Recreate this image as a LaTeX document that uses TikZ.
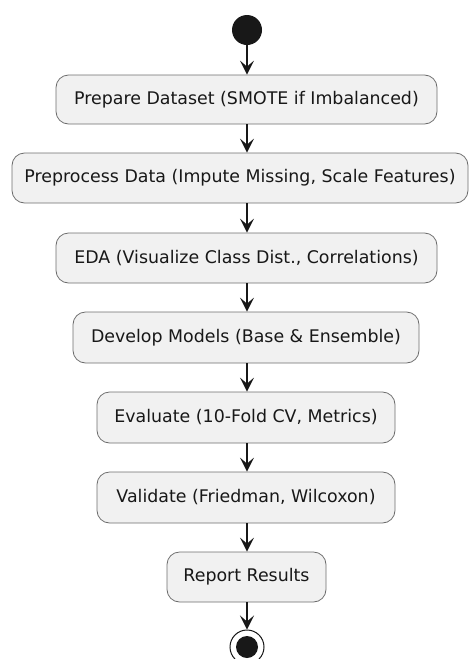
\documentclass[tikz,border=0pt]{standalone}
\usepackage{fontspec}
\setmainfont{DejaVu Sans}
\usetikzlibrary{arrows.meta}
\definecolor{boxfill}{HTML}{F1F1F1}
\definecolor{boxline}{HTML}{6E6E6E}
\definecolor{ink}{HTML}{181818}
\begin{document}
\begin{tikzpicture}[x=1pt,y=-1pt,
  act/.style={draw=boxline, line width=0.8pt, fill=boxfill, rounded corners=12.5pt, text=ink, font=\fontsize{17.4}{20}\selectfont, inner sep=0pt},
  flow/.style={draw=ink, line width=1.3pt, -{Stealth[length=14pt,width=14pt,inset=6pt]}}]
\useasboundingbox (0,0) rectangle (470,659);
\node[circle, fill=ink, minimum size=30pt, inner sep=0pt] (start) at (247,30) {};
\node[act, minimum width=381pt, minimum height=49pt] (a1) at (246.5,99.5) {Prepare Dataset (SMOTE if Imbalanced)};
\node[act, minimum width=456pt, minimum height=50pt] (a2) at (240,178) {Preprocess Data (Impute Missing, Scale Features)};
\node[act, minimum width=381pt, minimum height=50pt] (a3) at (246.5,258) {EDA (Visualize Class Dist., Correlations)};
\node[act, minimum width=346pt, minimum height=51pt] (a4) at (246,337.5) {Develop Models (Base \& Ensemble)};
\node[act, minimum width=298pt, minimum height=51pt] (a5) at (246,417.5) {Evaluate (10-Fold CV, Metrics)};
\node[act, minimum width=298pt, minimum height=51pt] (a6) at (246,497.5) {Validate (Friedman, Wilcoxon)};
\node[act, minimum width=159pt, minimum height=50pt] (a7) at (246.5,577) {Report Results};
\node[circle, draw=ink, line width=1pt, fill=white, minimum size=34pt, inner sep=0pt] (stop) at (247,647) {};
\node[circle, fill=ink, minimum size=22pt, inner sep=0pt] (stopin) at (247,647) {};
\draw[flow] (start.south) -- (start.south |- a1.north);
\draw[flow] (a1.south -| start.south) -- (start.south |- a2.north);
\draw[flow] (a2.south -| start.south) -- (start.south |- a3.north);
\draw[flow] (a3.south -| start.south) -- (start.south |- a4.north);
\draw[flow] (a4.south -| start.south) -- (start.south |- a5.north);
\draw[flow] (a5.south -| start.south) -- (start.south |- a6.north);
\draw[flow] (a6.south -| start.south) -- (start.south |- a7.north);
\draw[flow] (a7.south -| start.south) -- (stop.north);
\end{tikzpicture}
\end{document}
